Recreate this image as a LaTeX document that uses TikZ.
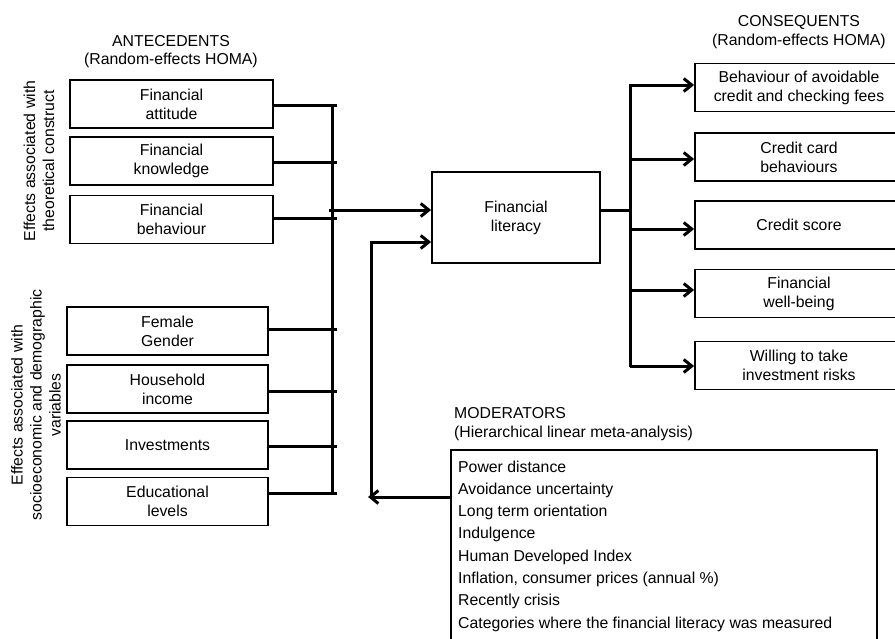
\documentclass[tikz,border=0pt]{standalone}
\usepackage{fontspec}
\setmainfont{Liberation Sans}
\usetikzlibrary{arrows.meta}
\newcommand\fsz{\fontsize{15.8}{19}\selectfont}
\begin{document}
\begin{tikzpicture}[x=1pt,y=-1pt,
  box/.style={draw, line width=1.8pt, align=center, inner sep=0pt, font=\fsz, minimum height=48},
  abox/.style={box, minimum width=203},
  bbox/.style={box, minimum width=201},
  cbox/.style={box, minimum width=208},
  conn/.style={line width=3pt},
  arr/.style={conn, -{Straight Barb[length=8pt,width=13pt]}},
  lbl/.style={font=\fsz, align=center},
  item/.style={font=\fsz, anchor=base west, inner sep=0pt}]
\clip (0,0) rectangle (895,638);
% headers
\node[lbl, anchor=base] (hA1) at (171,46) {ANTECEDENTS};
\node[lbl, anchor=base] (hA2) at (171,64) {(Random-effects HOMA)};
\node[lbl, anchor=base] (hC1) at (799,26) {CONSEQUENTS};
\node[lbl, anchor=base] (hC2) at (799,45) {(Random-effects HOMA)};
\node[item] (hM1) at (454,418) {MODERATORS};
\node[item] (hM2) at (454,437) {(Hierarchical linear meta-analysis)};
% rotated side labels
\node[lbl, rotate=90] (sideA) at (39,161) {Effects associated with\\theoretical construct};
\node[lbl, rotate=90] (sideB) at (36,405) {Effects associated with\\socioeconomic and demographic\\variables};
% antecedents
\node[abox] (att) at (171.5,104) {Financial\\attitude};
\node[abox] (kno) at (171.5,161) {Financial\\knowledge};
\node[abox] (beh) at (171.5,219.5) {Financial\\behaviour};
\node[bbox] (fem) at (167.5,331) {Female\\Gender};
\node[bbox] (inc) at (167.5,389) {Household\\income};
\node[bbox] (inv) at (167.5,445) {Investments};
\node[bbox] (edu) at (167.5,501.5) {Educational\\levels};
% financial literacy
\node[box, minimum width=168, minimum height=91] (fl) at (516,217.5) {Financial\\literacy};
% consequents
\node[cbox] (c1) at (799,87.5) {Behaviour of avoidable\\credit and checking fees};
\node[cbox] (c2) at (799,157) {Credit card\\behaviours};
\node[cbox] (c3) at (799,225) {Credit score};
\node[cbox] (c4) at (799,293.5) {Financial\\well-being};
\node[cbox] (c5) at (799,365.5) {Willing to take\\investment risks};
% moderators box
\node[draw, line width=1.8pt, anchor=north west, minimum width=426, minimum height=200, inner sep=0pt] (mod) at (450,449) {};
\foreach \t [count=\i from 0] in {Power distance,Avoidance uncertainty,Long term orientation,Indulgence,Human Developed Index,{Inflation, consumer prices (annual \%)},Recently crisis,Categories where the financial literacy was measured}
  \node[item] (m\i) at (458,472+22.3*\i) {\t};
% left bus
\foreach \n/\y in {att/105,kno/162,beh/218,fem/329,inc/391,inv/446,edu/493}
  \draw[conn] (\n.east |- 0,\y) -- (337,\y);
\draw[conn] (332,104) coordinate (lt) -- (332,494) coordinate (lb);
\coordinate (a1) at (329,210);
\draw[arr] (a1) -- (a1 -| fl.west);
% moderator path
\coordinate (mv) at (371,497);
\draw[arr] (mod.north west |- mv) -- (368,497);
\draw[arr, line cap=round] (mv) -- (371,242) -- (371,242 -| fl.west);
% right bus
\coordinate (rb) at (630,210);
\draw[conn] (fl.east |- rb) -- (rb);
\draw[conn] (630,84) -- (630,367);
\foreach \n/\y in {c1/85,c2/159,c3/229,c4/290,c5/366}
  \draw[arr] (630,\y) -- (630,\y -| \n.west);
\end{tikzpicture}
\end{document}
